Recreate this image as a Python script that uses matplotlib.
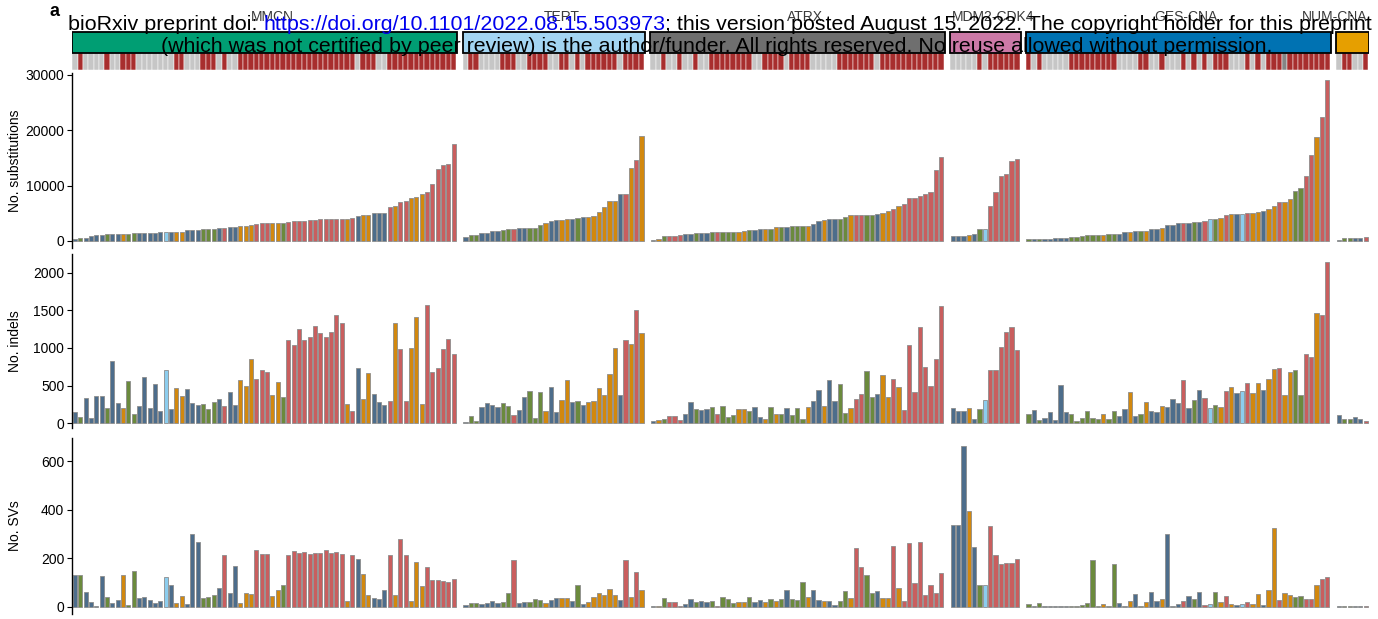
import matplotlib
matplotlib.use("Agg")
import matplotlib.pyplot as plt
from matplotlib.patches import Rectangle
import numpy as np

plt.rcParams['font.family'] = ['Liberation Sans', 'DejaVu Sans']

# ---------------------------------------------------------------- data
group_names = ["MMCN", "TERT", "ATRX", "MDM2-CDK4", "GES-CNA", "NUM-CNA"]
group_colors = ["#009e73", "#a3d5f2", "#6f6f6f", "#cc79a7", "#0072b2", "#e69f00"]

# per-sample class codes: B, G, O, R, L
mmcn_class = "BGBBBBGBBO" "GGBBBBBLBO" "OBBBGGGBRB" "BOOORRROOG" "RRRRRRRRRR" "RORBOOBBBR" "ORROOORRRR" "RR"
tert_class = "BGGBBBBGGR" "BBGGGOBBOO" "BGBOOOOOOB" "RORO"
atrx_class = "BOGRRRBBGB" "BGRGGGOOGB" "BOGOGBGGGO" "BBOBBGGORR" "GGBOORORRR" "RRRRR"
mdm2_class = "BBBOBGLRRRRRR"
ges_class = "GBGBBBBBGG" "GGGGOGGBBO" "BGOBBOBBBR" "BGBRLGOROB" "LROOBOOROO" "GGRRORR"
num_class = "BGGBBR"

# per-sample status strip: r (red), g (grey), d (dark grey)
mmcn_strip = "grggggrggr" "rrgggggggr" "rgggrrrgrg" "grrrrrrrrr" "rrrrrrrrrr" "rrrgrrrggr" "rrrrrrrrrrrr"
tert_strip = "grrggggrrr" "ggrrrrggrr" "grgrrrrrrg" "rrrr"
atrx_strip = "ggrggrggrg" "grrrrrrrrg" "grrrrgrrrr" "gggggrrrrr" "rrgrrrrrrr" "rrrrr"
mdm2_strip = "gggggrgrrrrrr"
ges_strip = "rgrgggggrr" "rrrrrrrggg" "grrggrgggr" "grgrgrrrgg" "grgrgrrrdr" "rrrrrrr"
num_strip = "grrggr"

mmcn_subs = [360, 600, 600, 850, 1030, 1030, 1200, 1200, 1200, 1330,
             1330, 1390, 1390, 1510, 1510, 1510, 1570, 1690, 1690, 1690,
             1690, 2000, 2000, 2000, 2110, 2110, 2110, 2300, 2420, 2540,
             2540, 2780, 2780, 2900, 3140, 3260, 3260, 3260, 3260, 3320,
             3500, 3690, 3690, 3690, 3750, 3750, 3930, 3930, 3990, 4050,
             4050, 4050, 4170, 4530, 4650, 4650, 5080, 5080, 5080, 6160,
             6400, 7010, 7250, 7790, 7980, 8520, 8880, 10210, 12990, 13720,
             13960, 17520]
mmcn_indels = [150, 80, 336, 71, 363, 367, 204, 823, 274, 199,
               558, 119, 230, 619, 208, 518, 159, 712, 195, 465,
               367, 451, 265, 243, 252, 195, 283, 323, 226, 412,
               243, 575, 500, 850, 593, 704, 686, 372, 553, 345,
               1102, 1040, 1257, 1102, 1142, 1292, 1195, 1150, 1208, 1434,
               1332, 252, 168, 739, 327, 664, 389, 288, 248, 292,
               1327, 982, 301, 1004, 1412, 261, 1566, 677, 739, 982,
               1115, 920]
mmcn_svs = [130, 129, 60, 21, 5, 125, 41, 14, 27, 130,
            7, 148, 34, 40, 27, 15, 25, 123, 90, 14,
            45, 12, 301, 268, 36, 42, 48, 77, 212, 56,
            166, 15, 55, 53, 234, 218, 218, 45, 67, 90,
            215, 230, 223, 225, 216, 221, 222, 233, 222, 225,
            219, 25, 212, 195, 133, 47, 34, 30, 70, 215,
            47, 277, 215, 25, 185, 86, 162, 108, 108, 105,
            101, 114]

tert_subs = [725, 1090, 1150, 1450, 1510, 1810, 1810, 2050, 2110, 2110,
             2300, 2300, 2420, 2420, 2840, 3320, 3630, 3750, 3750, 3930,
             3990, 4110, 4410, 4410, 4530, 5200, 6100, 7250, 7310, 8400,
             8580, 13110, 14560, 19030]
tert_indels = [22, 97, 35, 212, 274, 239, 221, 274, 230, 111,
               177, 354, 425, 66, 412, 159, 487, 155, 310, 571,
               283, 296, 243, 279, 292, 469, 376, 650, 996, 381,
               1102, 1053, 1504, 1199]
tert_svs = [7, 16, 16, 11, 14, 22, 14, 19, 58, 193,
            15, 19, 19, 30, 29, 14, 26, 37, 36, 34,
            22, 90, 12, 19, 41, 55, 47, 71, 48, 26,
            193, 40, 145, 68]

atrx_subs = [240, 360, 850, 910, 910, 1090, 1330, 1330, 1450, 1450,
             1450, 1570, 1630, 1630, 1630, 1690, 1690, 1750, 1930, 2000,
             2180, 2180, 2180, 2480, 2480, 2600, 2780, 2780, 2780, 2780,
             3020, 3630, 3750, 4050, 4050, 4050, 4290, 4650, 4710, 4710,
             4770, 4770, 4950, 5020, 5380, 5800, 6280, 6770, 7730, 7730,
             8100, 8460, 8940, 12810, 15230]
atrx_indels = [27, 40, 58, 93, 93, 44, 124, 288, 186, 177,
               186, 221, 119, 230, 84, 106, 186, 195, 164, 221,
               80, 53, 217, 119, 124, 208, 115, 199, 58, 217,
               292, 442, 226, 571, 292, 518, 137, 208, 319, 394,
               690, 350, 389, 642, 354, 593, 487, 177, 1035, 416,
               1274, 748, 491, 854, 1558]
atrx_svs = [3, 5, 37, 21, 21, 3, 10, 30, 18, 22,
            21, 23, 4, 38, 30, 15, 21, 21, 41, 18,
            27, 21, 32, 23, 32, 68, 30, 27, 103, 41,
            68, 26, 22, 22, 8, 22, 63, 36, 242, 164,
            129, 56, 63, 34, 37, 249, 78, 25, 264, 97,
            267, 48, 88, 58, 138]

mdm2_subs = [850, 870, 970, 1030, 1210, 2110, 2110, 6340, 8880, 11780, 12150, 14380, 14800]
mdm2_indels = [199, 159, 159, 204, 58, 190, 314, 704, 704, 1013, 1208, 1279, 978]
mdm2_svs = [337, 337, 663, 396, 245, 88, 88, 332, 214, 177, 182, 182, 195]

ges_subs = [360, 360, 360, 360, 360, 600, 600, 600, 725, 785,
            905, 1030, 1090, 1090, 1090, 1270, 1270, 1330, 1630, 1690,
            1810, 1810, 1810, 2110, 2110, 2420, 2840, 2960, 3260, 3260,
            3320, 3500, 3500, 3630, 3930, 3990, 4110, 4650, 4890, 4890,
            4890, 5140, 5140, 5200, 5440, 5860, 6400, 7070, 7130, 7670,
            9000, 9550, 11660, 15530, 18730, 22420, 29120]
ges_indels = [119, 173, 44, 71, 150, 44, 513, 146, 128, 31,
              71, 164, 75, 49, 124, 58, 168, 93, 190, 416,
              102, 119, 279, 164, 142, 230, 217, 319, 274, 580,
              208, 305, 438, 332, 204, 239, 217, 429, 478, 403,
              434, 531, 407, 540, 438, 593, 721, 730, 376, 677,
              704, 376, 916, 885, 1465, 1438, 2137]
ges_svs = [10, 3, 14, 5, 5, 5, 1, 5, 5, 5,
           8, 14, 193, 3, 10, 3, 177, 14, 5, 22,
           51, 3, 18, 60, 25, 33, 301, 5, 10, 22,
           44, 33, 60, 8, 10, 59, 19, 44, 10, 8,
           11, 19, 10, 53, 8, 67, 326, 27, 55, 49,
           40, 45, 30, 32, 88, 116, 122]

num_subs = [120, 480, 480, 540, 600, 725]
num_indels = [106, 53, 62, 80, 49, 27]
num_svs = [3, 1, 3, 5, 3, 3]

class_colors = {"B": "#4d6d8b", "G": "#6b8a3d", "O": "#d2880e",
                "R": "#c95e5e", "L": "#8ccdee"}
strip_colors = {"r": "#a82e2e", "g": "#c6c6c6", "d": "#858585"}

classes = [mmcn_class, tert_class, atrx_class, mdm2_class, ges_class, num_class]
strips = [mmcn_strip, tert_strip, atrx_strip, mdm2_strip, ges_strip, num_strip]
subs = [mmcn_subs, tert_subs, atrx_subs, mdm2_subs, ges_subs, num_subs]
indels = [mmcn_indels, tert_indels, atrx_indels, mdm2_indels, ges_indels, num_indels]
svs = [mmcn_svs, tert_svs, atrx_svs, mdm2_svs, ges_svs, num_svs]

# ---------------------------------------------------------------- layout
W, H = 1378, 619
fig = plt.figure(figsize=(W / 100, H / 100), dpi=100)


def px_axes(x0, y0, x1, y1):
    return fig.add_axes([x0 / W, 1 - y1 / H, (x1 - x0) / W, (y1 - y0) / H])


gap = 2.2
starts, positions = [], []
cur = 0.0
for cls in classes:
    n = len(cls)
    starts.append(cur)
    positions.append(cur + np.arange(n))
    cur += n - 1 + gap
xmin = -0.5625
xmax = xmin + (1369 - 72) / 5.3333

AX_L, AX_R = 72, 1369

# header + status strip
top = px_axes(AX_L, 30, AX_R, 71)
top.set_xlim(xmin, xmax)
top.set_ylim(41, 0)
top.axis("off")
for k, name in enumerate(group_names):
    p = positions[k]
    top.add_patch(Rectangle((p[0] - 0.5, 2.3), p[-1] - p[0] + 1.2, 20.5,
                            facecolor=group_colors[k], edgecolor="black",
                            linewidth=1.3, zorder=3))
    for xi, s in zip(p, strips[k]):
        top.add_patch(Rectangle((xi - 0.5, 23.3), 1.0, 16.7,
                                facecolor=strip_colors[s], edgecolor="white",
                                linewidth=0.35, zorder=2))
    cx = (p[0] + p[-1]) / 2 + 1.5
    ha = "center"
    if k == len(group_names) - 1:
        cx, ha = xmax - 0.3, "right"
    fig.text((AX_L + (cx - xmin) * 5.3333) / W, 1 - 17 / H, name,
             ha=ha, va="center", fontsize=10, color="#3a3a3a")

panels = [
    (subs, (73, 248), (-1270, 30360), [0, 10000, 20000, 30000], "No. substitutions"),
    (indels, (254, 428), (-64, 2248), [0, 500, 1000, 1500, 2000], "No. indels"),
    (svs, (438, 614), (-30, 695), [0, 200, 400, 600], "No. SVs"),
]
for values, (y0, y1), ylim, ticks, label in panels:
    ax = px_axes(AX_L, y0, AX_R, y1)
    for k in range(len(group_names)):
        ax.bar(positions[k], values[k], width=0.8,
               color=[class_colors[c] for c in classes[k]],
               edgecolor="#8d8d8d", linewidth=0.6)
    ax.set_xlim(xmin, xmax)
    ax.set_ylim(*ylim)
    ax.set_yticks(ticks)
    ax.set_xticks([])
    for s in ("top", "right", "bottom"):
        ax.spines[s].set_visible(False)
    ax.spines["left"].set_linewidth(1.0)
    ax.tick_params(axis="y", length=3.5, width=0.8, labelsize=10, pad=2)
    fig.text(15 / W, 1 - (y0 + y1) / 2 / H, label, rotation=90,
             ha="center", va="center", fontsize=10)

fig.text(50 / W, 1 - 11 / H, "a", fontsize=13, fontweight="bold",
         ha="left", va="center")

# preprint notice across the top
fs = 15.4
t1 = fig.text(68 / W, 1 - 30 / H, "bioRxiv preprint doi: ", fontsize=fs,
              ha="left", va="baseline", color="black", zorder=10)
t2 = fig.text(0, 0, "https://doi.org/10.1101/2022.08.15.503973", fontsize=fs,
              color="#0000ee", zorder=10)
t3 = fig.text(0, 0, "; this version posted August 15, 2022. The copyright holder for this preprint",
              fontsize=fs, color="black", zorder=10)
fig.canvas.draw()
r = fig.canvas.get_renderer()
bb = t1.get_window_extent(r)
t2.set_position((bb.x1 / W, 1 - 30 / H))
t2.set_va("baseline")
bb2 = t2.get_window_extent(r)
t3.set_position((bb2.x1 / W, 1 - 30 / H))
t3.set_va("baseline")
fig.text(717 / W, 1 - 52 / H,
         "(which was not certified by peer review) is the author/funder. All rights reserved. No reuse allowed without permission.",
         fontsize=fs, ha="center", va="baseline", color="black", zorder=10)

fig.savefig("out.png", dpi=100)
